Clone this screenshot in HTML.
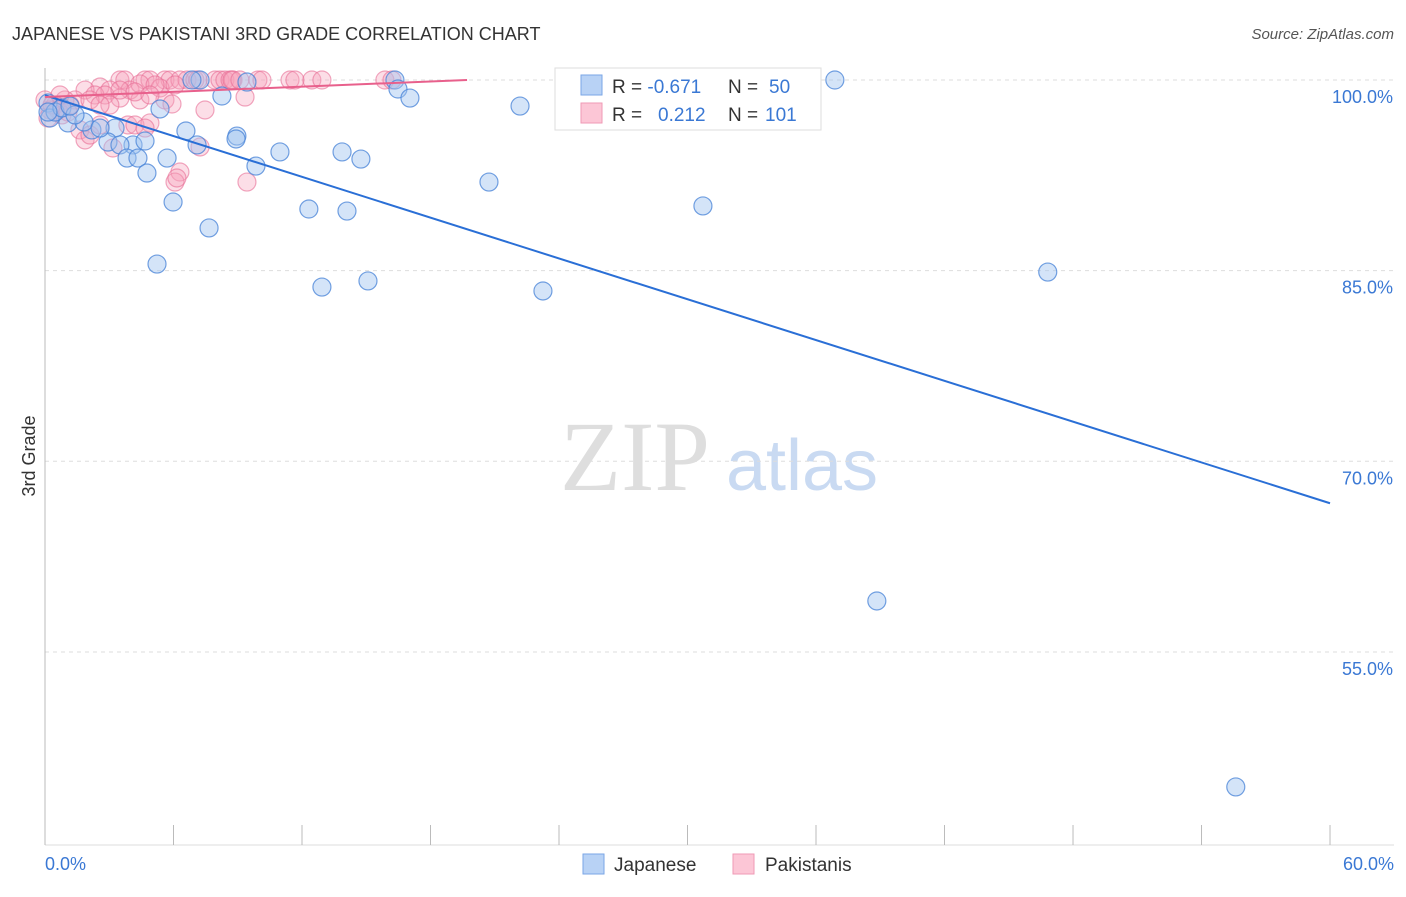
<!DOCTYPE html>
<html><head><meta charset="utf-8"><style>
body{margin:0;background:#fff;font-family:"Liberation Sans",sans-serif;}
svg text{font-family:"Liberation Sans",sans-serif;}
</style></head><body>
<svg id="chart" width="1406" height="892" viewBox="0 0 1406 892" xmlns="http://www.w3.org/2000/svg">
<text x="12" y="40" font-size="18" fill="#333">JAPANESE VS PAKISTANI 3RD GRADE CORRELATION CHART</text>
<text x="1394" y="39" font-size="15" fill="#555" font-style="italic" text-anchor="end">Source: ZipAtlas.com</text>
<text x="635" y="490" font-size="100" fill="#dedede" style="font-family:'Liberation Serif',serif" text-anchor="middle">ZIP</text>
<text x="802" y="490" font-size="72" fill="#c9daf2" text-anchor="middle">atlas</text>
<g id="grid"></g><g id="axes"></g>
<g id="pink"></g><g id="blue"></g><g id="trends"></g>
<text x="35" y="456" font-size="18" fill="#333" text-anchor="middle" transform="rotate(-90 35 456)">3rd Grade</text>
<text x="45" y="870" font-size="18" fill="#3a78d4">0.0%</text>
<text x="1394" y="870" font-size="18" fill="#3a78d4" text-anchor="end">60.0%</text>
<g>
<rect x="555" y="68" width="266" height="62" fill="#fff" stroke="#ddd"/>
<rect x="581" y="75" width="21" height="20" fill="#b8d2f5" stroke="#7aa6e6"/>
<rect x="581" y="103" width="21" height="20" fill="#fcc6d6" stroke="#ef9ab5"/>
<text x="612" y="93" font-size="19" fill="#333">R = <tspan fill="#3a78d4">-0.671</tspan><tspan x="728">N = </tspan><tspan fill="#3a78d4" x="769">50</tspan></text>
<text x="612" y="121" font-size="19" fill="#333">R = <tspan fill="#3a78d4" x="658">0.212</tspan><tspan x="728">N = </tspan><tspan fill="#3a78d4" x="765">101</tspan></text>
</g>
<g>
<rect x="583" y="854" width="21" height="20" fill="#b8d2f5" stroke="#7aa6e6"/>
<text x="614" y="871" font-size="19" fill="#333">Japanese</text>
<rect x="733" y="854" width="21" height="20" fill="#fcc6d6" stroke="#ef9ab5"/>
<text x="765" y="871" font-size="19" fill="#333">Pakistanis</text>
</g>
</svg>
<script>
const yTicks=[100,85,70,55];
const xTicks=[0,6,12,18,24,30,36,42,48,54,60];
const blueX=[36.88,16.34,16.48,17.04,22.18,7.24,6.86,9.43,8.26,5.37,6.58,8.96,8.92,3.27,2.19,1.07,1.82,2.94,4.11,4.67,3.50,3.83,4.34,5.70,4.76,5.98,7.66,5.23,7.10,9.85,10.97,13.87,14.75,12.32,14.10,12.93,15.08,20.73,23.25,30.72,46.82,38.84,55.60,0.14,0.23,0.47,0.79,1.40,2.57,0.14,1.17];
const blueY=[100,100,99.29,98.58,97.95,100,100,99.84,98.74,97.72,95.99,95.59,95.36,96.22,96.07,96.62,96.70,95.12,94.89,95.20,94.89,93.86,93.86,93.86,92.68,90.40,88.36,85.52,94.89,93.23,94.34,94.34,93.78,89.85,89.69,83.71,84.19,91.97,83.40,90.09,84.89,59.01,44.38,98.19,97.01,97.48,97.80,97.25,96.22,97.48,97.95];
const pinkX=[3.50,3.73,4.67,4.90,5.60,5.84,6.30,6.63,7.00,7.94,8.17,8.40,8.64,8.78,9.94,11.44,11.67,12.46,12.93,15.87,16.20,8.73,9.10,10.13,7.14,2.57,3.03,3.97,5.37,4.43,5.14,6.07,1.87,2.33,2.80,3.50,4.43,5.60,5.93,7.47,9.34,3.03,1.40,0.93,0.47,0.61,0.23,0.79,1.63,1.87,2.10,2.57,3.17,3.87,4.20,4.90,4.67,6.30,6.07,6.16,9.43,7.24,0,0.33,1.17,1.07,0.14,2.10,2.57,3.50,4.20,4.90,0.70];
const pinkY=[100,100,100,100,100,100,100,100,100,100,100,100,100,100,100,100,100,100,100,100,100,100,100,100,100,99.45,99.21,99.21,99.37,99.69,99.61,99.61,99.21,98.82,98.82,98.58,98.43,98.43,98.11,97.64,98.66,98.03,98.43,98.43,98.03,97.64,97.64,97.25,96.07,95.28,95.67,96.46,94.65,96.46,96.46,96.62,96.22,92.76,91.97,92.29,91.97,94.73,98.43,98.03,98.03,97.48,97.01,98.43,98.03,99.21,99.06,98.82,98.82];
const blueTrend=[98.8,-0.535];
const pinkTrend=[98.66,0.068];
const NS='http://www.w3.org/2000/svg';
const sx=v=>45+v*21.417, sy=v=>80+(100-v)*12.71;
function mk(t,a,p){const e=document.createElementNS(NS,t);for(const k in a)e.setAttribute(k,a[k]);p.appendChild(e);return e;}
const grid=document.getElementById('grid'),axes=document.getElementById('axes');
yTicks.forEach(v=>{const l=mk('line',{x1:45,x2:1394,y1:sy(v),y2:sy(v),stroke:'#ddd','stroke-dasharray':'4,4'},grid);


const t=mk('text',{x:1393,y:sy(v)+23,'font-size':18,fill:'#3a78d4','text-anchor':'end'},grid);t.textContent=v.toFixed(1)+'%';

});
const ax=mk('line',{x1:45,x2:45,y1:68,y2:845,stroke:'#bbb'},axes);


const bx=mk('line',{x1:45,x2:1394,y1:845,y2:845,stroke:'#ddd'},axes);


xTicks.forEach(v=>{const l=mk('line',{x1:sx(v),x2:sx(v),y1:825,y2:845,stroke:'#bbb'},axes);

});
function dots(X,Y,g,fill,stroke,name){X.forEach((x,i)=>{const c=mk('circle',{cx:sx(x),cy:sy(Y[i]),r:9,fill:fill,stroke:stroke,'stroke-width':1.2},g);

});}
dots(pinkX,pinkY,document.getElementById('pink'),'rgba(246,160,186,0.35)','rgba(232,110,150,0.6)','pakistani-point');
dots(blueX,blueY,document.getElementById('blue'),'rgba(160,196,240,0.45)','rgba(70,130,215,0.75)','japanese-point');
const tr=document.getElementById('trends');
const b=mk('line',{x1:sx(0),y1:sy(blueTrend[0]),x2:sx(60),y2:sy(blueTrend[0]+blueTrend[1]*60),stroke:'#2a6fd6','stroke-width':2},tr);


const pe=(100-pinkTrend[0])/pinkTrend[1];
const p=mk('line',{x1:sx(0),y1:sy(pinkTrend[0]),x2:sx(pe),y2:sy(pinkTrend[0]+pinkTrend[1]*pe),stroke:'#e8608c','stroke-width':2},tr);


</script>
</body></html>
